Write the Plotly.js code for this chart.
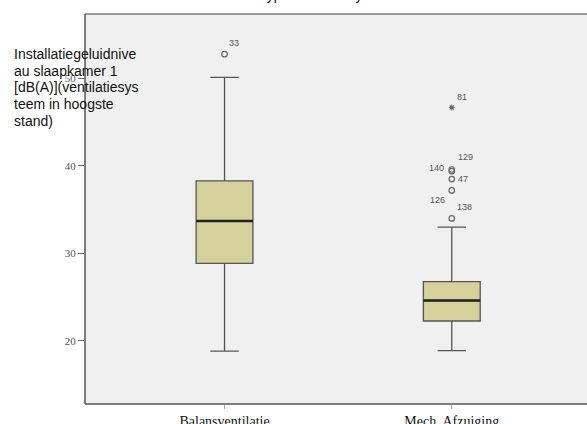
<!DOCTYPE html>
<html><head><meta charset="utf-8">
<script src="https://cdn.plot.ly/plotly-3.0.1.min.js"></script>
<style>html,body{margin:0;padding:0;background:#fff;overflow:hidden;width:587px;height:424px}#c{width:592px;height:424px}</style>
</head><body><div id="c"></div>
<script>
const categories = ["Balansventilatie", "Mech. Afzuiging"];
const lowerWhisker = [18.8, 18.85];
const q1 = [28.85, 22.25];
const median = [33.7, 24.6];
const q3 = [38.3, 26.75];
const upperWhisker = [50.15, 33.0];
const outlierGroup = [0, 1, 1, 1, 1, 1, 1];
const outlierValue = [52.8, 46.7, 39.6, 39.4, 38.5, 37.2, 34.0];
const outlierLabel = ["33", "81", "129", "140", "47", "126", "138"];
const outlierExtreme = [false, true, false, false, false, false, false];
const yTicks = [20, 30, 40, 50];
const yTitleLines = ["Installatiegeluidnive", "au slaapkamer 1", "[dB(A)](ventilatiesys", "teem in hoogste", "stand)"];
const chartTitle = "Type ventilatiesysteem";

const labelShift = [[9,11],[10,10],[14,12],[-15,3],[11,0],[-14,-10],[13,11]];
const xs = categories.map((c,i)=>i);
const boxW = 0.25;

const traces = [{
  type: 'box', x: xs, q1: q1, median: median, q3: q3,
  lowerfence: lowerWhisker, upperfence: upperWhisker,
  boxpoints: false, width: boxW, whiskerwidth: 0.5,
  fillcolor: '#d6d09c', line: {color: '#555', width: 1.3},
  hoverinfo: 'skip', showlegend: false
}];
const mx = [], my = [];
xs.forEach((x,i)=>{ mx.push(x-boxW/2, x+boxW/2, null); my.push(median[i], median[i], null); });
traces.push({type:'scatter', mode:'lines', x: mx, y: my, line:{color:'#222', width:2.5}, hoverinfo:'skip', showlegend:false});
const oc = outlierValue.map((v,i)=>!outlierExtreme[i]);
traces.push({type:'scatter', mode:'markers',
  x: outlierGroup.filter((g,i)=>oc[i]), y: outlierValue.filter((v,i)=>oc[i]),
  marker:{symbol:'circle-open', size:5.5, color:'#666', line:{width:1.2, color:'#666'}},
  hoverinfo:'skip', showlegend:false});
traces.push({type:'scatter', mode:'markers',
  x: outlierGroup.filter((g,i)=>!oc[i]), y: outlierValue.filter((v,i)=>!oc[i]),
  marker:{symbol:'asterisk-open', size:5, color:'#666', line:{width:1.1, color:'#666'}},
  hoverinfo:'skip', showlegend:false});

const annotations = outlierLabel.map((t,i)=>({
  x: outlierGroup[i], y: outlierValue[i], xref:'x', yref:'y', text: t, showarrow:false,
  xshift: labelShift[i][0], yshift: labelShift[i][1],
  font:{family:'Liberation Sans, Arial, sans-serif', size:9, color:'#555'}
}));
const plotTop = 14, plotH = 390, plotL = 85, plotW = 592 - 85;
yTitleLines.forEach((t,i)=>{
  const py = 54 + i*16.7;
  annotations.push({x:0, xref:'paper', xanchor:'left', xshift:-73, y: 1-(py-plotTop)/plotH, yref:'paper', yanchor:'middle',
    text:t, showarrow:false, align:'left', font:{family:'Liberation Sans, Arial, sans-serif', size:14, color:'#111'}});
});
annotations.push({x:(330-plotL)/plotW, xref:'paper', y: 1+(plotTop-5)/plotH, yref:'paper', yanchor:'bottom', xanchor:'center',
  text: chartTitle, showarrow:false, font:{family:'Liberation Sans, Arial, sans-serif', size:14, color:'#111'}});

const layout = {
  width: 592, height: 424,
  margin: {l: 85, r: 0, t: 14, b: 20},
  paper_bgcolor: '#fff', plot_bgcolor: '#f0f0f0',
  xaxis: {range: [-0.614, 1.617], tickvals: xs, ticktext: categories, showgrid:false, zeroline:false,
    showline:false, ticks:'outside', ticklen:4, tickcolor:'#aaa',
    tickfont:{family:'Liberation Serif, Times New Roman, serif', size:14, color:'#111'}},
  yaxis: {range: [12.75, 57.4], tickvals: yTicks, showgrid:false, zeroline:false,
    showline:false, ticks:'outside', ticklen:6, tickcolor:'#666',
    tickfont:{family:'Liberation Serif, Times New Roman, serif', size:11, color:'#555'}},
  shapes: [
    {type:'line', xref:'paper', yref:'paper', x0:0, x1:1, y0:1, y1:1, line:{color:'#999', width:2}},
    {type:'line', xref:'paper', yref:'paper', x0:0, x1:0, y0:0, y1:1, line:{color:'#555', width:1.5}},
    {type:'line', xref:'paper', yref:'paper', x0:0, x1:1, y0:0, y1:0, line:{color:'#555', width:1.5}}
  ],
  annotations: annotations,
  showlegend: false
};
Plotly.newPlot('c', traces, layout, {staticPlot:true, displayModeBar:false});
</script></body></html>
